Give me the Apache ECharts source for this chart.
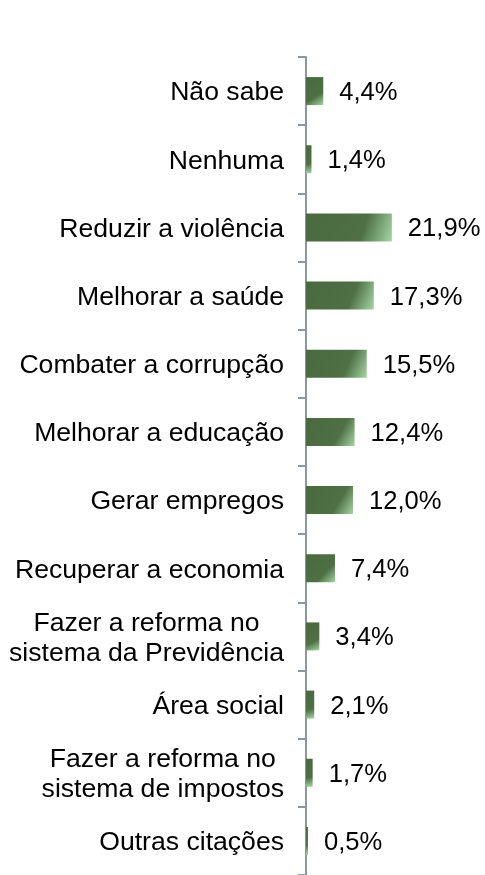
<!DOCTYPE html>
<html>
<head>
<meta charset="utf-8">
<script src="https://cdn.jsdelivr.net/npm/echarts@6/dist/echarts.min.js"></script>
<style>
  html, body { margin: 0; padding: 0; background: #fff; }
  #chart { width: 485px; height: 875px; }
</style>
</head>
<body>
<div id="chart"></div>
<script>
// categorias (de cima para baixo)
const categories = [
  'Não sabe',
  'Nenhuma',
  'Reduzir a violência',
  'Melhorar a saúde',
  'Combater a corrupção',
  'Melhorar a educação',
  'Gerar empregos',
  'Recuperar a economia',
  'Fazer a reforma no\nsistema da Previdência',
  'Área social',
  'Fazer a reforma no\nsistema de impostos',
  'Outras citações'
];
// percentuais
const values = [4.4, 1.4, 21.9, 17.3, 15.5, 12.4, 12.0, 7.4, 3.4, 2.1, 1.7, 0.5];

const chart = echarts.init(document.getElementById('chart'));

// verde escuro com canto inferior direito claro
const barColor = new echarts.graphic.LinearGradient(0, 0, 1, 1, [
  { offset: 0, color: '#4a6a40' },
  { offset: 0.66, color: '#4e7044' },
  { offset: 1, color: '#a6d6a4' }
]);

chart.setOption({
  animation: false,
  textStyle: { fontFamily: 'Liberation Sans, Arial, sans-serif' },
  grid: { left: 306, top: 57, width: 98, height: 820 },
  xAxis: {
    type: 'value',
    min: 0,
    max: 25,
    show: false
  },
  yAxis: {
    type: 'category',
    data: categories,
    inverse: true,
    axisLine: { lineStyle: { color: '#8e979f', width: 2 } },
    axisTick: { show: true, length: 8, lineStyle: { color: '#8e979f', width: 2 } },
    axisLabel: {
      margin: 22,
      color: '#000',
      fontSize: 26.6,
      padding: [4, 0, 0, 0],
      formatter: function (v) {
        return v.split('\n').map(function (s) { return '{c|' + s + '}'; }).join('\n');
      },
      rich: {
        c: { align: 'center', fontSize: 26.6, lineHeight: 30, color: '#000' }
      }
    }
  },
  series: [{
    type: 'bar',
    data: values,
    barWidth: 28,
    itemStyle: { color: barColor },
    label: {
      show: true,
      position: 'right',
      distance: 16,
      offset: [0, 2],
      color: '#000',
      fontSize: 25.6,
      formatter: function (p) {
        return p.value.toFixed(1).replace('.', ',') + '%';
      }
    }
  }]
});
</script>
</body>
</html>
